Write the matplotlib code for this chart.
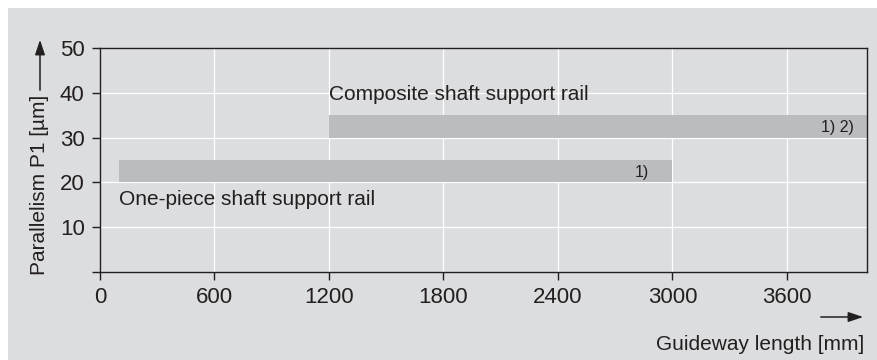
import matplotlib
matplotlib.use('Agg')
import matplotlib.pyplot as plt
from matplotlib.patches import Rectangle, FancyArrowPatch

plt.rcParams['font.family'] = ['Liberation Sans', 'DejaVu Sans']

# rail types: start, end of guideway length [mm], parallelism band [um]
rails = ['One-piece shaft support rail', 'Composite shaft support rail']
len_start = [100, 1200]
len_end = [3000, 4020]
par_low = [20, 30]
par_high = [25, 35]
notes = ['1)', '1) 2)']
note_x = [2880, 3950]

xticks = [0, 600, 1200, 1800, 2400, 3000, 3600]
yticks = [0, 10, 20, 30, 40, 50]
ytick_labels = ['', '10', '20', '30', '40', '50']

bg = '#dcdddf'
bar_col = '#bbbcbf'
dark = '#231f20'

fig = plt.figure(figsize=(8.78, 3.6), dpi=100)
fig.patch.set_facecolor('white')
fig.patches.append(Rectangle((8/878, 0), 869/878, 352/360, transform=fig.transFigure,
                             facecolor=bg, edgecolor='none', zorder=-10))

ax = fig.add_axes([100/878, 1 - 272/360, 767/878, 224/360])
ax.set_facecolor(bg)
ax.set_xlim(0, 4020)
ax.set_ylim(0, 50)

for i in range(len(rails)):
    ax.barh((par_low[i] + par_high[i]) / 2, len_end[i] - len_start[i], left=len_start[i],
            height=par_high[i] - par_low[i], color=bar_col, zorder=2)
    ax.text(note_x[i], (par_low[i] + par_high[i]) / 2 - 0.3, notes[i], ha='right', va='center',
            fontsize=11.5, color=dark, zorder=3)

ax.text(len_start[1], par_high[1] + 2.4, rails[1], ha='left', va='bottom', fontsize=15, color=dark)
ax.text(len_start[0], par_low[0] - 1.7, rails[0], ha='left', va='top', fontsize=15, color=dark)

ax.set_xticks(xticks)
ax.set_yticks(yticks)
ax.set_yticklabels(ytick_labels)
ax.grid(True, color='white', linewidth=0.9)
ax.set_axisbelow(True)
for s in ax.spines.values():
    s.set_color(dark)
    s.set_linewidth(1.0)
ax.tick_params(direction='out', length=6, width=1.0, color=dark, labelcolor=dark, labelsize=16)
ax.tick_params(axis='x', pad=5)
ax.tick_params(axis='y', pad=5)

# axis titles with arrows
fig.text(40/878, 1 - 185/360, 'Parallelism P1 [µm]', rotation=90, ha='center', va='center',
         fontsize=15, color=dark)
fig.add_artist(FancyArrowPatch((40/878, 1 - 93/360), (40/878, 1 - 37/360),
               transform=fig.transFigure, arrowstyle='-|>,head_length=9,head_width=3',
               color=dark, linewidth=1.1, mutation_scale=1))
fig.text(864/878, 1 - 345/360, 'Guideway length [mm]', ha='right', va='center',
         fontsize=15, color=dark)
fig.add_artist(FancyArrowPatch((818/878, 1 - 317/360), (866/878, 1 - 317/360),
               transform=fig.transFigure, arrowstyle='-|>,head_length=9,head_width=3',
               color=dark, linewidth=1.1, mutation_scale=1))

fig.savefig('out.png', dpi=100, facecolor=fig.get_facecolor())
